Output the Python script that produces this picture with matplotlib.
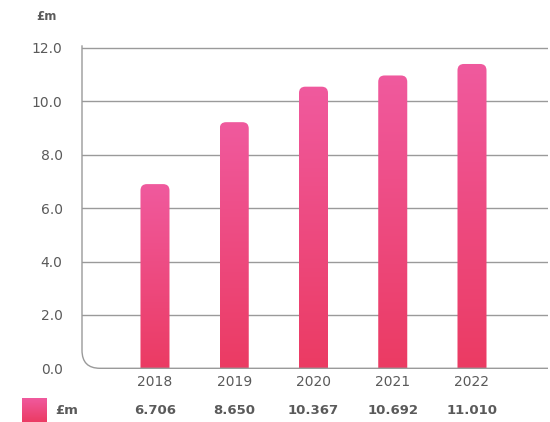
import numpy as np
import matplotlib
matplotlib.use('Agg')
import matplotlib.pyplot as plt
from matplotlib.patches import FancyBboxPatch, PathPatch, Rectangle
from matplotlib.path import Path
from matplotlib.colors import LinearSegmentedColormap
import matplotlib.transforms as mtransforms

# Datos
anios = ['2018', '2019', '2020', '2021', '2022']
alturas = [6.90, 9.22, 10.55, 10.97, 11.40]   # altura de barra
etiquetas = ['6.706', '8.650', '10.367', '10.692', '11.010']
yticks = [0, 2, 4, 6, 8, 10, 12]

gris = '#5a5a5a'
cmap = LinearSegmentedColormap.from_list('rosa', ['#eb3b63', '#f05a9e'])
grad = np.linspace(0, 1, 256).reshape(-1, 1)

fig = plt.figure(figsize=(5.5, 4.22), dpi=100)
ax = fig.add_axes([82 / 550, (422 - 368.3) / 422, 466 / 550, 323 / 422])
ax.set_xlim(-0.921, 4.959)
ax.set_ylim(0, 12.1)

# Lineas de la grilla
for y in yticks[1:]:
    ax.axhline(y, color='#9a9a9a', lw=1, zorder=1)

# Barras con degradado y esquinas superiores redondeadas
ancho = 0.366
for i, h in enumerate(alturas):
    x0 = i - ancho / 2
    caja = FancyBboxPatch((x0, -1), ancho, h + 1,
                          boxstyle='round,pad=0,rounding_size=0.08',
                          mutation_aspect=3.0, facecolor='none', edgecolor='none')
    ax.add_patch(caja)
    im = ax.imshow(grad, cmap=cmap, aspect='auto', origin='lower',
                   extent=(x0, x0 + ancho, 0, h), zorder=2)
    im.set_clip_path(caja)

# Eje con esquina redondeada
for s in ax.spines.values():
    s.set_visible(False)
rx, ry = 18 / 466, 18 / 323
verts = [(0, 1.0), (0, ry), (0, 0), (rx, 0), (1, 0)]
codes = [Path.MOVETO, Path.LINETO, Path.CURVE3, Path.CURVE3, Path.LINETO]
ax.add_patch(PathPatch(Path(verts, codes), transform=ax.transAxes,
                       facecolor='none', edgecolor='#9a9a9a', lw=1,
                       clip_on=False, zorder=3))

ax.set_yticks(yticks)
ax.set_yticklabels([f'{v:.1f}' for v in yticks])
ax.set_xticks(range(len(anios)))
ax.set_xticklabels(anios)
ax.tick_params(axis='y', length=0, pad=14, labelsize=10, labelcolor=gris)
ax.tick_params(axis='x', length=0, pad=5, labelsize=10, labelcolor=gris)

fig.text(36 / 550, 1 - 16 / 422, '£m', fontsize=8.5, fontweight='bold',
         color=gris, va='center', ha='left')

# Fila de la leyenda / tabla
cuadro = Rectangle((22 / 550, 0), 24 / 550, 24 / 422, transform=fig.transFigure,
                   facecolor='none', edgecolor='none')
fig.patches.append(cuadro)
ax_c = fig.add_axes([22 / 550, 0, 24 / 550, 24 / 422])
ax_c.imshow(grad, cmap=cmap, aspect='auto', origin='lower', extent=(0, 1, 0, 1))
ax_c.axis('off')

fig.text(55 / 550, 1 - 411 / 422, '£m', fontsize=9.5, fontweight='bold',
         color=gris, va='center', ha='left')
trans = mtransforms.blended_transform_factory(ax.transData, fig.transFigure)
for i, t in enumerate(etiquetas):
    ax.text(i, 1 - 410 / 422, t, transform=trans, fontsize=9.5, fontweight='bold',
            color=gris, ha='center', va='center')

fig.savefig('out.png', dpi=100)
